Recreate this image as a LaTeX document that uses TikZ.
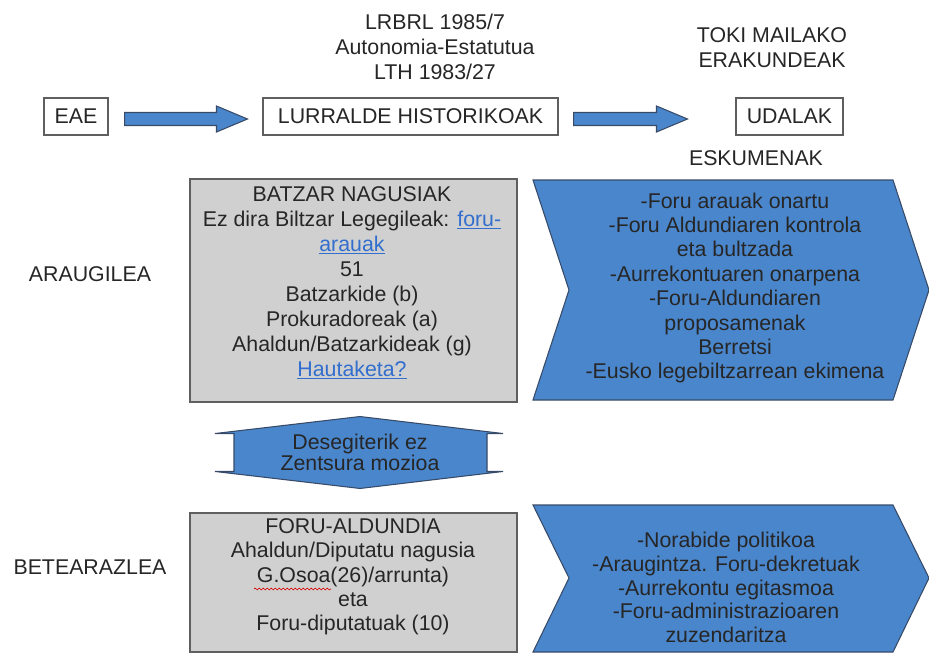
\documentclass[tikz,border=0pt]{standalone}
\usepackage{fontspec}
\setmainfont{Liberation Sans}
\usetikzlibrary{calc,decorations.pathmorphing}
\definecolor{cblue}{RGB}{74,134,204}
\definecolor{cbluedark}{RGB}{55,75,105}
\definecolor{cgray}{RGB}{208,208,208}
\definecolor{cborder}{RGB}{95,95,95}
\definecolor{ctext}{RGB}{38,38,38}
\definecolor{clink}{RGB}{50,110,205}
\newcommand{\lnk}[1]{{\color{clink}\underline{#1}}}
\begin{document}
\begin{tikzpicture}[x=0.75pt,y=-0.75pt,
  txt/.style={font=\fontsize{16}{18.4}\selectfont, text=ctext, align=center, inner sep=0pt},
  whitebox/.style={draw=cborder, line width=0.8pt, fill=white, inner sep=0pt,
    font=\fontsize{16}{18.4}\selectfont, text=ctext, minimum height=37*0.75pt},
  graybox/.style={draw=cborder, line width=0.8pt, fill=cgray, inner sep=0pt, minimum width=327*0.75pt},
  bluesh/.style={draw=cbluedark, line width=0.8pt, fill=cblue, line join=miter}]
\useasboundingbox (0,0) rectangle (929,657);

% top labels
\node[txt, font=\fontsize{16}{18.75}\selectfont] (law) at (435,47) {LRBRL 1985/7\\Autonomia-Estatutua\\LTH 1983/27};
\node[txt] (toki) at (772,47.5) {TOKI MAILAKO\\ERAKUNDEAK};

% top row boxes
\node[whitebox, minimum width=64*0.75pt] (eae) at (76,116.5) {EAE};
\node[whitebox, minimum width=295*0.75pt] (lh) at (410.5,116.5) {LURRALDE HISTORIKOAK};
\node[whitebox, minimum width=107*0.75pt] (ud) at (789.5,116.5) {UDALAK};

% block arrows between boxes
\coordinate (a1s) at ($(eae.east)+(16,2.5)$);
\coordinate (a1t) at ($(lh.west)+(-15,2.5)$);
\draw[bluesh] ($(a1s)+(0,-6.5)$) -- ($(a1t)+(-31,-6.5)$) -- ($(a1t)+(-31,-13)$) -- (a1t)
  -- ($(a1t)+(-31,13)$) -- ($(a1t)+(-31,6.5)$) -- ($(a1s)+(0,6.5)$) -- cycle;
\coordinate (a2s) at ($(lh.east)+(15,2.5)$);
\coordinate (a2t) at ($(ud.west)+(-48,2.5)$);
\draw[bluesh] ($(a2s)+(0,-6.5)$) -- ($(a2t)+(-31,-6.5)$) -- ($(a2t)+(-31,-13)$) -- (a2t)
  -- ($(a2t)+(-31,13)$) -- ($(a2t)+(-31,6.5)$) -- ($(a2s)+(0,6.5)$) -- cycle;

\node[txt] (esk) at (756,158) {ESKUMENAK};

% side labels
\node[txt] (arau) at (90,274) {ARAUGILEA};
\node[txt] (bete) at (90,567) {BETEARAZLEA};

% Batzar Nagusiak
\node[graybox, minimum height=223*0.75pt] (bn) at (353.5,290.5) {};
\node[txt, font=\fontsize{16}{18.75}\selectfont] (bntxt) at (352,283) {BATZAR NAGUSIAK\\Ez dira Biltzar Legegileak: \lnk{foru-}\\\lnk{arauak}\\51\\Batzarkide (b)\\Prokuradoreak (a)\\Ahaldun/Batzarkideak (g)\\\lnk{Hautaketa?}};

% chevron 1
\draw[bluesh] (533,180) -- (893,180) -- (929,290) -- (893,400) -- (533,400) -- (569,290) -- cycle;
\node[txt, font=\fontsize{16}{18.3}\selectfont] (ch1) at (735,288) {-Foru arauak onartu\\-Foru Aldundiaren kontrola\\eta bultzada\\-Aurrekontuaren onarpena\\-Foru-Aldundiaren\\proposamenak\\Berretsi\\-Eusko legebiltzarrean ekimena};

% Foru Aldundia
\node[graybox, minimum height=139*0.75pt] (fa) at (353.5,582.5) {};
\node[txt, font=\fontsize{16}{18.2}\selectfont] (fatxt) at (353,577) {FORU-ALDUNDIA\\Ahaldun/Diputatu nagusia\\G.Osoa(26)/arrunta)\\eta\\Foru-diputatuak (10)};
\draw[red!85!black, line width=0.5pt, decorate, decoration={snake, amplitude=0.7pt, segment length=3pt}] (254,589) -- (331,589);

% double arrow between the two bodies
\coordinate (dt) at ($(bn.south)+(6.5,14)$);
\coordinate (db) at ($(fa.north)+(6.5,-24)$);
\draw[bluesh] ($(dt)+(-145,17)$) -- (dt) -- ($(dt)+(143,17)$) -- ($(dt)+(127,17)$) -- ($(db)+(127,-17)$)
  -- ($(db)+(143,-17)$) -- (db) -- ($(db)+(-145,-17)$) -- ($(db)+(-126,-17)$) -- ($(dt)+(-126,17)$) -- cycle;
\node[txt, font=\fontsize{16}{16.2}\selectfont] (des) at (360,452.5) {Desegiterik ez\\Zentsura mozioa};

% chevron 2
\draw[bluesh] (533,505) -- (893,505) -- (929,578) -- (893,652) -- (533,652) -- (569,578) -- cycle;
\node[txt, font=\fontsize{16}{17.8}\selectfont] (ch2) at (726,587.5) {-Norabide politikoa\\-Araugintza. Foru-dekretuak\\-Aurrekontu egitasmoa\\-Foru-administrazioaren\\zuzendaritza};
\end{tikzpicture}
\end{document}
